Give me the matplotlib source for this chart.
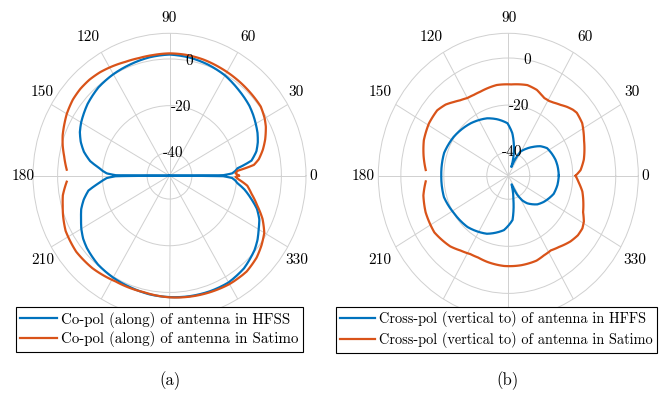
import numpy as np
import matplotlib
matplotlib.use("Agg")
import matplotlib.pyplot as plt

plt.rcParams['font.family'] = ['cmr10', 'DejaVu Serif']

# (a) co-pol, angle in degrees, level in dB
ang_co_hfss = [0, 0.5, 2, 4, 6, 10, 15, 20, 25, 30, 35, 40, 50, 60, 70, 80, 90, 100, 110, 120,
               130, 140, 150, 155, 160, 165, 170, 174, 176, 178, 179.5, 180, 180.5, 182, 184,
               186, 190, 195, 200, 205, 210, 215, 220, 230, 240, 250, 260, 270, 280, 290,
               300, 310, 320, 325, 330, 335, 340, 345, 350, 354, 356, 358, 359.5, 360]
co_hfss = [-50, -26, -22, -20.5, -19.4, -12.8, -9.8, -8.0, -6.6, -5.5, -4.4, -3.4, -2.0, -0.4,
           0.6, 1.4, 1.9, 1.5, 0.8, 0.2, -0.6, -2.2, -4.4, -5.8, -7.8, -10.4, -14.0, -18.4,
           -20, -22, -26, -50, -26, -22, -20, -18.0, -13.2, -10.3, -8.0, -6.4, -4.5, -2.9,
           -1.8, -0.3, 0.4, 0.9, 1.6, 2.0, 2.4, 2.7, 2.8, 1.8, -0.4, -2.0, -4.0, -5.7, -8.4,
           -12.3, -16.0, -19.5, -20.5, -22, -26, -50]

ang_co_sat = [0, 2, 4, 7, 10, 15, 20, 26, 30, 36, 45, 55, 64, 73, 82, 90, 98, 105, 112, 118,
              125, 131, 137, 143, 150, 154, 160, 165, 170, 176.8, 180, 183.2, 190, 195, 200,
              207, 218, 229, 242, 257, 270, 280, 290, 300, 310, 318, 324, 330, 336, 342,
              348, 353, 357, 359, 360]
co_sat = [-19, -20.5, -19.5, -12, -9.5, -6.8, -4.5, -2.1, -0.9, 0.4, 0.7, 1.1, 1.5, 2.0, 2.3,
          2.4, 2.2, 2.2, 2.6, 3.3, 4.1, 4.5, 4.5, 4.1, 3.0, 2.1, 0.8, -0.6, -2.2, -4.0,
          np.nan, -4.0, -1.6, -0.6, 0.6, 2.1, 2.9, 2.5, 1.3, 1.2, 2.1, 2.6, 3.1, 3.6, 3.6,
          2.4, 0.8, -1.1, -4.5, -8.8, -12.5, -15, -19, -20.5, -19]

# (b) cross-pol
ang_cx_hfss = [0, 10, 17, 25, 33, 40, 46, 53, 61, 66, 69, 73, 78, 84, 91, 102, 112, 128, 147, 162,
               180, 197, 212, 229, 248, 265, 276, 283, 289, 293, 297, 302, 307, 318, 326,
               340, 350, 360]
cx_hfss = [-26.5, -26.7, -27, -27.7, -28.5, -30.5, -32.9, -35.5, -38.3, -43, -46, -42, -37.4,
           -31.9, -27.7, -25.5, -23.7, -21.7, -19.7, -18.6, -18.8, -18.7, -20.1, -21.1, -23.4,
           -26.8, -31.1, -39.4, -44, -46, -41, -37.5, -35.3, -31.8, -30.1, -27.5, -26.8, -26.5]

ang_cx_sat = [0, 4, 11, 23, 33, 40, 43, 47, 51, 56, 59, 63, 66, 70, 77, 88, 98, 110, 115, 120,
              125, 129, 134, 140, 149, 159, 168, 176.4, 180, 183.6, 192, 202, 215, 228, 235,
              242, 248, 255, 267, 279, 290, 296, 302, 308, 316, 322, 327, 331, 336, 349,
              355, 360]
cx_sat = [-18.7, -16.3, -14.2, -11.7, -9, -8.4, -8.9, -10, -11.3, -12.5, -13.0, -13.0, -12.3,
          -11.2, -10.5, -11.2, -11.1, -12, -12.1, -11.9, -10.9, -9.7, -8.0, -6.8, -6.9, -7.9,
          -9.7, -11.5, np.nan, -11.5, -9.6, -8.5, -8, -9.6, -11.2, -12.3, -12.5, -12.1, -11.6,
          -11.5, -11.6, -12.3, -12.6, -11.6, -9.8, -8.9, -8.9, -9.8, -11.9, -14.9, -17.1,
          -18.7]

labels_a = ['Co-pol (along) of antenna in HFSS', 'Co-pol (along) of antenna in Satimo']
labels_b = ['Cross-pol (vertical to) of antenna in HFFS', 'Cross-pol (vertical to) of antenna in Satimo']
rings = [-40, -20, 0]
theta_ticks = list(range(0, 360, 30))

blue = '#0072BD'
orange = '#D95319'
grey = '#d0d0d0'

W, H = 659, 394
fig = plt.figure(figsize=(W / 100, H / 100), dpi=100)

# where the angle labels sit, pixel offset from the centre (x right, y down)
off_a = {0: (143.5, 0), 30: (127, -84), 60: (78.5, -139), 90: (0, -158), 120: (-81, -139),
         150: (-127, -84), 180: (-146, 0), 210: (-127, 84), 240: (-81, 139), 270: (0, 158),
         300: (78.5, 139), 330: (127, 84)}
off_b = {0: (137, 0), 30: (124, -84), 60: (77, -139), 90: (0.5, -158), 120: (-77, -139),
         150: (-128, -84), 180: (-145, 0), 210: (-128, 84), 240: (-77, 139), 270: (0, 158),
         300: (77, 139), 330: (127, 84)}


def make_ax(cx, rx, top, ry, rmax, offs):
    ax = fig.add_axes([(cx - rx) / W, 1 - (top + 2 * ry) / H, 2 * rx / W, 2 * ry / H],
                      projection='polar')
    ax.set_aspect('auto')
    ax.set_rlim(-50, rmax)
    ax.set_rticks(rings)
    ax.set_yticklabels([])
    ax.set_xticks(np.deg2rad(theta_ticks))
    ax.set_xticklabels([])
    ax.grid(True, color=grey, lw=0.7)
    ax.spines['polar'].set_color(grey)
    ax.spines['polar'].set_linewidth(0.7)
    for r in rings:
        ax.text(np.deg2rad(80), r, str(r), ha='center', va='center', fontsize=11)
    for t in theta_ticks:
        dx, dy = offs[t]
        ax.text(0.5 + dx / (2 * rx), 0.5 - dy / (2 * ry), str(t), transform=ax.transAxes,
                ha='center', va='center', fontsize=11, clip_on=False)
    return ax


def curve(ax, ang, val, color):
    ln, = ax.plot(np.deg2rad(ang), val, color=color, lw=1.6)
    ln.get_path()._interpolation_steps = 24
    return ln


ax1 = make_ax(169.5, 136.5, 33.3, 142.4, 11, off_a)
l1 = curve(ax1, ang_co_hfss, co_hfss, blue)
l2 = curve(ax1, ang_co_sat, co_sat, orange)

ax2 = make_ax(508.3, 130, 33.3, 142.4, 10.5, off_b)
l3 = curve(ax2, ang_cx_hfss, cx_hfss, blue)
l4 = curve(ax2, ang_cx_sat, cx_sat, orange)

lg1 = ax1.legend([l1, l2], labels_a, loc='upper left', bbox_to_anchor=(15.5 / W, 1 - 307 / H),
                 bbox_transform=fig.transFigure, fontsize=10.8, fancybox=False,
                 edgecolor='black', framealpha=1, borderpad=0.3, handlelength=2.45,
                 handletextpad=0.27, labelspacing=0.25, borderaxespad=0)
lg2 = ax2.legend([l3, l4], labels_b, loc='upper left', bbox_to_anchor=(336 / W, 1 - 307 / H),
                 bbox_transform=fig.transFigure, fontsize=10.3, fancybox=False,
                 edgecolor='black', framealpha=1, borderpad=0.31, handlelength=2.45,
                 handletextpad=0.26, labelspacing=0.33, borderaxespad=0)
for lg in (lg1, lg2):
    lg.get_frame().set_linewidth(0.8)
    lg.set_zorder(10)

fig.text(170 / W, 1 - 381 / H, '(a)', ha='center', va='center', fontsize=12)
fig.text(508 / W, 1 - 381 / H, '(b)', ha='center', va='center', fontsize=12)

fig.savefig('out.png', dpi=100)
